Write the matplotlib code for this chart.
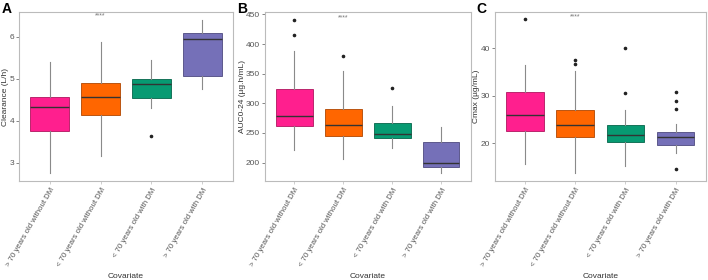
import matplotlib
matplotlib.use("Agg")
from matplotlib import pyplot as plt

plt.rcParams["font.family"] = ["Liberation Sans", "DejaVu Sans"]

groups = ["> 70 years old without DM", "< 70 years old without DM",
          "< 70 years old with DM", "> 70 years old with DM"]
fills = ["#FF1F8E", "#FF6600", "#079A72", "#7570B8"]
edges = ["#B0155F", "#B04600", "#04654A", "#4E4A80"]

# box stats per group: whislo, q1, med, q3, whishi, outliers
clearance = [
    (2.75, 3.75, 4.33, 4.57, 5.40, []),
    (3.16, 4.13, 4.56, 4.90, 5.87, []),
    (4.29, 4.55, 4.87, 4.99, 5.45, [3.64]),
    (4.75, 5.07, 5.95, 6.10, 6.40, []),
]
auc = [
    (221, 262, 278, 324, 388, [416, 440]),
    (206, 245, 263, 291, 355, [380]),
    (224, 242, 248, 266, 296, [325]),
    (183, 192, 200, 234, 260, []),
]
cmax = [
    (15.5, 22.6, 25.9, 30.7, 36.6, [46.2]),
    (13.7, 21.3, 23.9, 27.1, 35.2, [36.8, 37.5]),
    (15.1, 20.3, 21.8, 23.9, 27.1, [30.6, 40.0]),
    (17.9, 19.7, 21.3, 22.4, 24.0, [14.6, 27.3, 28.9, 30.9]),
]

panels = [
    ("A", "Clearance (L/h)", clearance, (2.56, 6.59), [3, 4, 5, 6], 6.5, (19, 233), 6, 2),
    ("B", "AUC0-24 (\u00b5g.h/mL)", auc, (169, 454), [200, 250, 300, 350, 400, 450], 444, (265, 470.5), 243, 237),
    ("C", "Cmax (\u00b5g/mL)", cmax, (12.0, 47.7), [20, 30, 40], 46.6, (495, 705.7), 477, 476),
]

W, H = 708, 280
fig = plt.figure(figsize=(W / 100, H / 100), dpi=100)
ytop, ybot = 12, 181

for letter, ylabel, stats, ylim, yticks, star_y, (x0, x1), ylab_x, let_x in panels:
    ax = fig.add_axes([x0 / W, 1 - ybot / H, (x1 - x0) / W, (ybot - ytop) / H])
    bxp_stats = []
    for s in stats:
        bxp_stats.append(dict(whislo=s[0], q1=s[1], med=s[2], q3=s[3],
                              whishi=s[4], fliers=s[5]))
    res = ax.bxp(bxp_stats, positions=[1, 2, 3, 4], widths=0.75,
                 patch_artist=True, showcaps=False,
                 whiskerprops=dict(color="#8a8a8a", lw=0.8),
                 medianprops=dict(color="#333333", lw=1.0),
                 flierprops=dict(marker="o", markersize=1.6,
                                 markerfacecolor="#222222", markeredgecolor="#222222"))
    for patch, fc, ec in zip(res["boxes"], fills, edges):
        patch.set_facecolor(fc)
        patch.set_edgecolor(ec)
        patch.set_linewidth(0.6)
    ax.text(2, star_y, "****", ha="center", va="center", fontsize=5, color="#777777")

    ax.set_xlim(0.4, 4.6)
    ax.set_ylim(*ylim)
    ax.set_yticks(yticks)
    ax.set_xticks([1, 2, 3, 4])
    ax.set_xticklabels(groups, rotation=60, ha="right", rotation_mode="anchor", fontsize=5.6)
    ax.tick_params(axis="y", labelsize=6, colors="#555555", length=2, width=0.5, pad=1.5)
    ax.tick_params(axis="x", colors="#bbbbbb", labelcolor="#555555", length=2, width=0.5, pad=2)
    for sp in ax.spines.values():
        sp.set_color("#bbbbbb")
        sp.set_linewidth(0.8)
    ax.set_ylabel(ylabel, fontsize=6, color="#333333")
    ax.yaxis.set_label_coords((ylab_x - x0) / (x1 - x0), 0.5)
    ax.yaxis.label.set_va("center")
    ax.set_xlabel("Covariate", fontsize=6, color="#333333")
    ax.xaxis.set_label_coords(0.5, -(276 - ybot) / (ybot - ytop))
    ax.xaxis.label.set_va("center")
    fig.text(let_x / W, 1 - 9 / H, letter, fontsize=10, fontweight="bold",
             ha="left", va="center")

fig.savefig("out.png", dpi=100)
